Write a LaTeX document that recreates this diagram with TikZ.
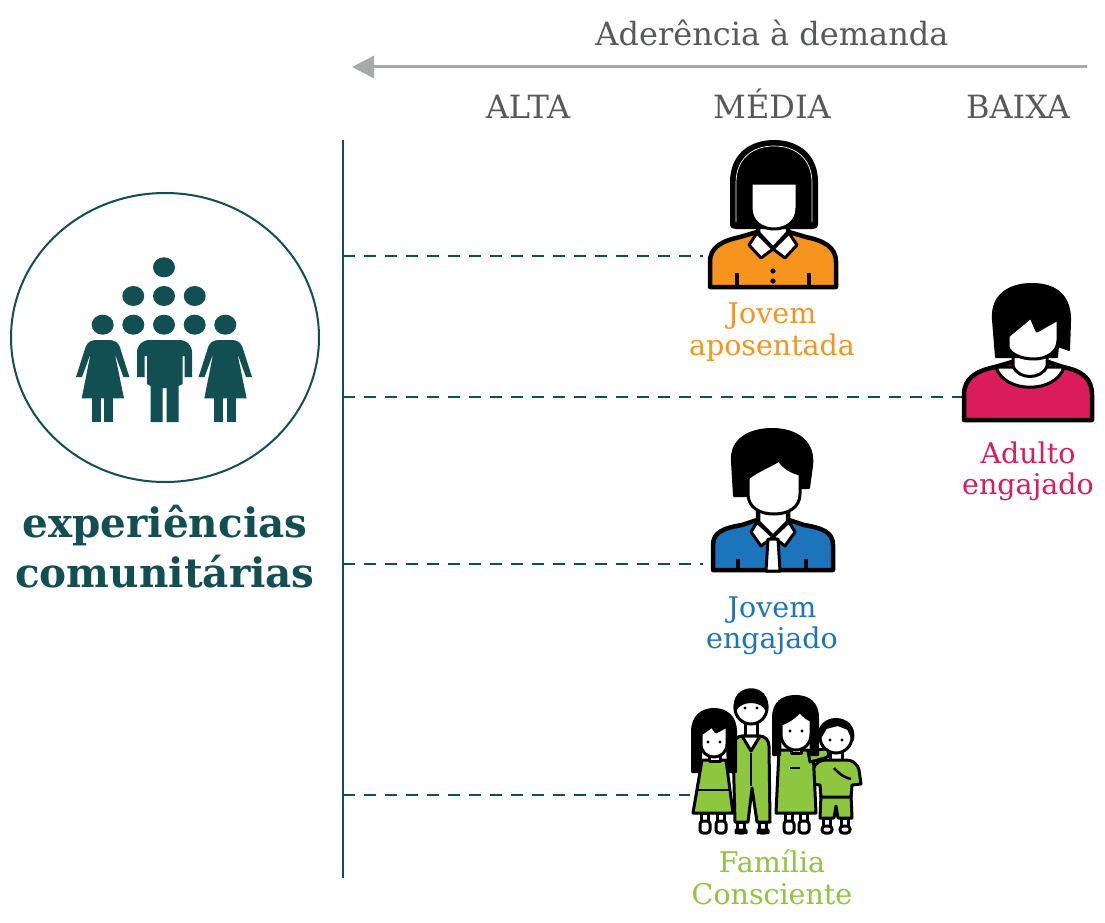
\documentclass[tikz,border=0pt]{standalone}
\usepackage{fontspec}
\setmainfont{DejaVu Serif}
\usetikzlibrary{arrows.meta,shapes.geometric}
\definecolor{cTeal}{HTML}{124F52}
\definecolor{cGray}{HTML}{58595B}
\definecolor{cArrow}{HTML}{A7A9AC}
\definecolor{cOrange}{HTML}{F7941D}
\definecolor{cPink}{HTML}{DA1C5C}
\definecolor{cBlue}{HTML}{1C75BC}
\definecolor{cGreen}{HTML}{8DC63F}
\begin{document}
\begin{tikzpicture}[x=1pt,y=-1pt,
  ink/.style={draw=black,line width=4.5pt,line join=round,line cap=round},
  fink/.style={draw=black,line width=3pt,line join=round,line cap=round},
  hair/.style={fill=black,draw=black,line width=2pt,line join=round},
  guide/.style={cTeal,line width=1.3pt,dash pattern=on 12pt off 9pt},
  axis/.style={cTeal,line width=2.5pt},
  head/.style={font=\fontsize{32}{37}\selectfont,text=cGray,anchor=base,inner sep=0pt},
  lbl/.style={font=\fontsize{28.5}{33}\selectfont,anchor=base,inner sep=0pt},
  big/.style={font=\bfseries\fontsize{40.5}{47}\selectfont,text=cTeal,anchor=base,inner sep=0pt}]
\fill[white] (0,0) rectangle (1105,923);
\useasboundingbox (0,0) rectangle (1105,923);

% ---------- header: scale of demand ----------
\node[head] (title) at (772,46) {Aderência à demanda};
\coordinate (arrR) at (1087,67);
\coordinate (arrL) at (352,67);
\draw[cArrow,line width=3pt,-{Triangle[length=22pt,width=22pt]}] (arrR) -- (arrL);
\node[head] (alta) at (528,118) {ALTA};
\node[head] (media) at (772,118) {MÉDIA};
\node[head] (baixa) at (1018,118) {BAIXA};

% ---------- vertical axis and guides ----------
\coordinate (axT) at (343,140);
\coordinate (axB) at (343,878);
\draw[axis] (axT) -- (axB);
\coordinate (g1a) at (343,256); \coordinate (g1b) at (703,256);
\coordinate (g2a) at (343,397); \coordinate (g2b) at (963,397);
\coordinate (g3a) at (343,564); \coordinate (g3b) at (703,564);
\coordinate (g4a) at (343,795); \coordinate (g4b) at (690,795);
\draw[guide] (g1a) -- (g1b);
\draw[guide] (g2a) -- (g2b);
\draw[guide] (g3a) -- (g3b);
\draw[guide] (g4a) -- (g4b);

% ---------- community badge ----------
\node[draw=cTeal,line width=2pt,ellipse,minimum width=308pt,minimum height=289pt,inner sep=0pt] (badge) at (165,337.5) {};
\begin{scope}[fill=cTeal]
  \fill (164,267.3) ellipse [x radius=11pt,y radius=10pt];
  \foreach \x in {133.3,164,194.7} \fill (\x,296) ellipse [x radius=11pt,y radius=10pt];
  \foreach \x in {102.7,133.3,164,194.7,225.3} \fill (\x,324.7) ellipse [x radius=11pt,y radius=10pt];
  % man
  \fill (137,377) -- (137,353) .. controls (137,345) and (142,340) .. (150,340) -- (179,340)
        .. controls (187,340) and (192,345) .. (192,353) -- (192,377) -- (184.5,377) -- (184.5,356)
        -- (144.5,356) -- (144.5,377) -- cycle;
  \fill (147,350) -- (182.5,350) -- (182.5,384) -- (178.5,386) -- (178.5,422) -- (166.5,422)
        -- (166.5,388) -- (162.5,388) -- (162.5,422) -- (150.5,422) -- (150.5,386) -- (147,384) -- cycle;
  % women
  \foreach \cx in {102.7,225.3} {
    \begin{scope}[shift={(\cx,324.7)}]
      \fill (-26.7,52.3) -- (-17,22) .. controls (-15,17) and (-11,15.3) .. (-6,15.3) -- (6,15.3)
            .. controls (11,15.3) and (15,17) .. (17,22) -- (26.7,52.3) -- (20.7,52.3) -- (12,28.5)
            -- (21.3,73.6) -- (-21,73.6) -- (-12,28.5) -- (-20.7,52.3) -- cycle;
      \fill (-11,72) rectangle (-2,97.6);
      \fill (1.6,72) rectangle (10.6,97.6);
    \end{scope}
  }
\end{scope}
\node[big] (exp) at (165,537) {experiências};
\node[big] (com) at (165,587) {comunitárias};

% ---------- young retired woman ----------
\path[ink,fill=cOrange] (710,287) -- (710,262) .. controls (710,247) and (722,241) .. (740,237) -- (757,232)
      -- (789,232) -- (806,237) .. controls (824,241) and (836,247) .. (836,262) -- (836,287) -- cycle;
\path[ink,fill=white] (758,218) -- (758,233) -- (773,249) -- (788,233) -- (788,218);
\path[fink,fill=white] (757,233) -- (749,245) -- (761,258) -- (773,249) -- cycle;
\path[fink,fill=white] (789,233) -- (797,245) -- (785,258) -- (773,249) -- cycle;
\path[hair] (731,225) -- (731,182) .. controls (731,155) and (750,141) .. (774,141)
      .. controls (798,141) and (817,155) .. (817,182) -- (817,225) .. controls (817,227) and (815,228) .. (812,228)
      -- (736,228) .. controls (733,228) and (731,227) .. (731,225) -- cycle;
\draw[white,line width=0.7pt] (736,222) -- (736,183) .. controls (736,159) and (752,146) .. (774,146)
      .. controls (796,146) and (812,159) .. (812,183) -- (812,222);
\path[fink,fill=white] (751,183) -- (797,183) -- (797,208) .. controls (797,221) and (787,229) .. (774,229)
      .. controls (761,229) and (751,221) .. (751,208) -- cycle;
\fill (773,271) circle [radius=2.6pt];
\fill (773,281) circle [radius=2.6pt];
\draw[line width=3.5pt] (737,287) -- (737,273);
\draw[line width=3.5pt] (809,287) -- (809,273);
\node[lbl,text=cOrange] (l1a) at (772,323) {Jovem};
\node[lbl,text=cOrange] (l1b) at (772,355) {aposentada};

% ---------- engaged adult ----------
\path[ink,fill=cPink] (964,420) -- (964,395) .. controls (964,378) and (976,371) .. (995,367) -- (1012,362)
      -- (1048,362) -- (1063,367) .. controls (1082,371) and (1092,378) .. (1092,395) -- (1092,420) -- cycle;
\path[fink,fill=white] (996,367) .. controls (1004,394) and (1056,394) .. (1064,367) -- cycle;
\path[fink,fill=white] (1013,345) -- (1013,366) .. controls (1018,380) and (1042,380) .. (1047,366) -- (1047,345);
\path[hair] (996,357) -- (993,320) .. controls (991,296) and (1008,284) .. (1032,284)
      .. controls (1058,284) and (1071,298) .. (1070,322) -- (1069,350) -- (1058,346) -- (1057,357) -- cycle;
\path[fink,fill=white] (1008,347) -- (1008,336) -- (1031,317) -- (1037,331) -- (1058,319) -- (1058,340)
      .. controls (1058,352) and (1047,359) .. (1034,359) .. controls (1021,359) and (1010,354) .. (1008,347) -- cycle;
\node[lbl,text=cPink] (l2a) at (1028,463) {Adulto};
\node[lbl,text=cPink] (l2b) at (1028,494) {engajado};

% ---------- engaged young man ----------
\path[ink,fill=cBlue] (713,570) -- (713,545) .. controls (713,532) and (724,528) .. (742,525) -- (757,520)
      -- (789,520) -- (804,525) .. controls (822,528) and (833,532) .. (833,545) -- (833,570) -- cycle;
\path[ink,fill=white] (758,503) -- (758,522) -- (773,537) -- (788,522) -- (788,503);
\path[fink,fill=white] (757,522) -- (751,532) -- (761,546) -- (773,537) -- cycle;
\path[fink,fill=white] (789,522) -- (795,532) -- (785,546) -- (773,537) -- cycle;
\path[fink,fill=white] (768,539) -- (778,539) -- (780,571) -- (766,571) -- cycle;
\path[hair] (734,496) -- (732,462) .. controls (730,439) and (750,429) .. (772,429)
      .. controls (797,429) and (815,442) .. (812,466) -- (809,488) -- (799,488) -- (748,496) -- cycle;
\path[fink,fill=white] (748,478) .. controls (758,470) and (770,466) .. (779,460) .. controls (784,468) and (792,472) .. (800,474)
      -- (800,494) .. controls (800,507) and (789,514) .. (774,514) .. controls (759,514) and (748,507) .. (748,494) -- cycle;
\draw[line width=3.5pt] (738,571) -- (738,559);
\draw[line width=3.5pt] (806,571) -- (806,559);
\node[lbl,text=cBlue] (l3a) at (772,617) {Jovem};
\node[lbl,text=cBlue] (l3b) at (772,648) {engajado};

% ---------- conscious family ----------
% father (back)
\path[fink,fill=white] (745,720) rectangle (757,738);
\path[fink,fill=cGreen] (733,746) .. controls (733,740) and (737,736) .. (743,736) -- (759,736)
      .. controls (765,736) and (769,740) .. (769,746) -- (770,822) -- (757,822) -- (752,788) -- (748,822)
      -- (735,822) -- cycle;
\path[fink,fill=white] (742,736) -- (751,751) -- (760,736) -- cycle;
\draw[line width=2.5pt] (751,753) -- (751,786);
\path[fink,fill=white] (751,708) circle [radius=16pt];
\path[hair] (735,711) .. controls (730,682) and (772,682) .. (767,711) .. controls (762,699) and (740,699) .. (735,711) -- cycle;
\fill (745,708) circle [radius=1.7pt]; \fill (757,708) circle [radius=1.7pt];
% girl
\path[fink,fill=cGreen] (702,760) -- (726,760) -- (733,813) -- (693,813) -- cycle;
\draw[line width=2.5pt] (697,790) -- (730,790);
\path[hair] (692,772) -- (692,732) .. controls (692,716) and (702,709) .. (714,709)
      .. controls (726,709) and (736,716) .. (736,732) -- (736,772) -- (728,772) -- (727,742) -- (702,742) -- (700,772) -- cycle;
\path[fink,fill=white] (709,752) rectangle (720,761);
\path[fink,fill=white] (701,734) -- (712,726) -- (716,732) -- (727,726) -- (727,744) .. controls (727,752) and (721,757) .. (714,757)
      .. controls (707,757) and (701,752) .. (701,744) -- cycle;
\fill (708,742) circle [radius=1.7pt]; \fill (720,742) circle [radius=1.7pt];
% boy
\path[fink,fill=white] (830,750) rectangle (842,762);
\path[fink,fill=cGreen] (821,795) -- (851,795) -- (852,818) -- (838,818) -- (836,806) -- (834,818) -- (820,818) -- cycle;
\path[fink,fill=cGreen] (813,770) .. controls (815,763) and (820,760) .. (826,760) -- (846,760)
      .. controls (852,760) and (857,763) .. (859,770) -- (861,784) -- (852,785) -- (851,797) -- (821,797)
      -- (820,785) -- (811,784) -- cycle;
\draw[line width=2.5pt] (834,768) .. controls (840,775) and (846,778) .. (851,779);
\path[fink,fill=white] (836,737) circle [radius=16pt];
\path[hair] (819,740) .. controls (814,712) and (858,712) .. (853,740) -- (848,729) -- (838,725) -- (826,728) -- cycle;
\fill (830,740) circle [radius=1.7pt]; \fill (842,740) circle [radius=1.7pt];
% mother
\path[fink,fill=cGreen] (779,750) -- (813,750) -- (816,813) -- (776,813) -- cycle;
\draw[line width=2.5pt] (790,768) -- (800,768);
\path[fink,fill=cGreen] (808,751) -- (825,749) .. controls (830,749) and (830,758) .. (825,758) -- (810,762) -- cycle;
\path[hair] (773,755) -- (773,718) .. controls (773,702) and (783,696) .. (795.5,696)
      .. controls (808,696) and (818,702) .. (818,718) -- (818,755) -- (811,755) -- (810,730) -- (781,730) -- (780,755) -- cycle;
\path[fink,fill=white] (791,746) rectangle (801,753);
\path[fink,fill=white] (781,724) .. controls (788,722) and (796,716) .. (800,711) .. controls (803,716) and (808,719) .. (811,720)
      -- (811,734) .. controls (811,744) and (804,750) .. (796,750) .. controls (788,750) and (781,744) .. (781,734) -- cycle;
\fill (790,731) circle [radius=1.7pt]; \fill (802,731) circle [radius=1.7pt];
% legs and feet
\foreach \fx/\top in {705/813,721/813,741/822,763/822,789/813,804/813,827/818,845/818} {
  \path[fink,fill=white] (\fx-3.5,\top) rectangle (\fx+3.5,\top+10);
  \path[fink,fill=white,rounded corners=3pt] (\fx-5,\top+8) rectangle (\fx+5,833);
}
\node[lbl,text=cGreen] (l4a) at (772,872) {Família};
\node[lbl,text=cGreen] (l4b) at (772,904) {Consciente};
\end{tikzpicture}
\end{document}
